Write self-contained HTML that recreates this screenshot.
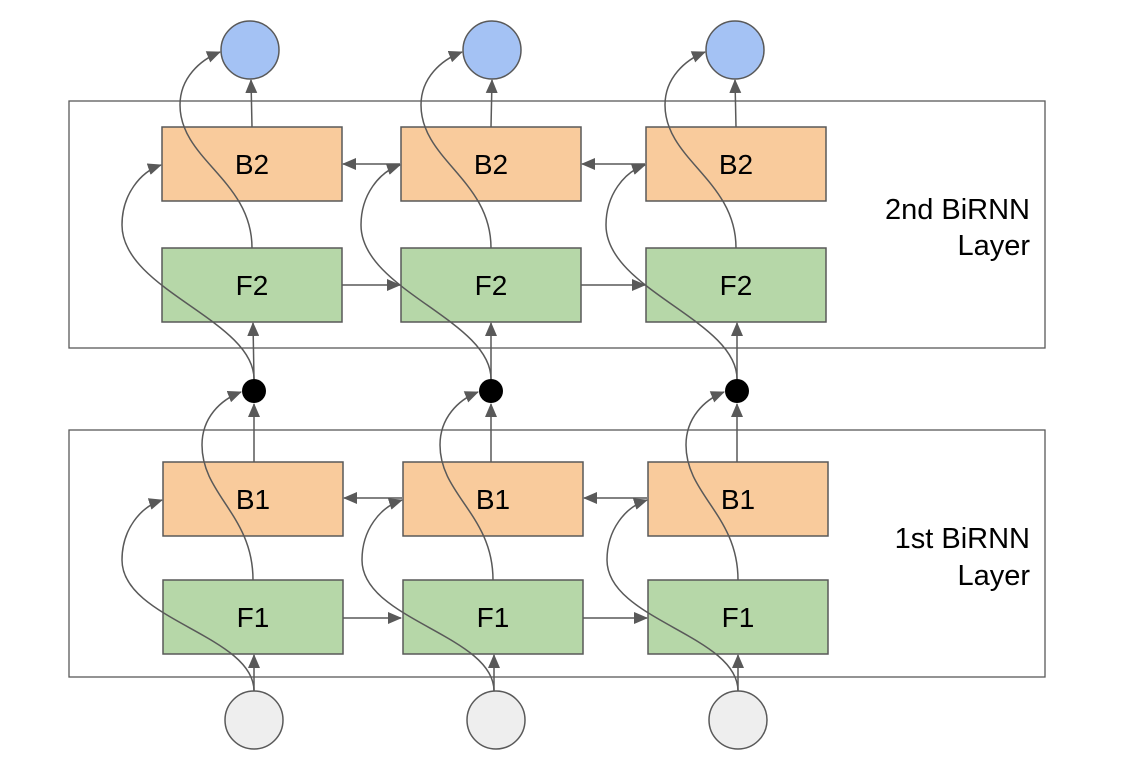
<!DOCTYPE html>
<html><head><style>body{margin:0;background:#fff}svg{display:block}</style></head><body>
<svg width="1126" height="769" viewBox="0 0 1126 769" xmlns="http://www.w3.org/2000/svg" font-family="Liberation Sans, Arial, sans-serif">
<defs><marker id="a" markerWidth="14" markerHeight="12" refX="13" refY="6" orient="auto" markerUnits="userSpaceOnUse"><path d="M0,0 L14,6 L0,12 z" fill="#595959"/></marker></defs>
<g fill="none" stroke="#595959" stroke-width="1.3">
<rect x="69" y="101" width="976" height="247"/>
<rect x="69" y="430" width="976" height="247"/>
</g>
<g font-size="29" text-anchor="end" fill="#000">
<text x="1030" y="219">2nd BiRNN</text><text x="1030" y="255">Layer</text>
<text x="1030" y="548">1st BiRNN</text><text x="1030" y="585">Layer</text>
</g>
<g stroke="#595959" stroke-width="1.5" fill="none" marker-end="url(#a)">
<line x1="342" y1="285" x2="400" y2="285"/><line x1="581" y1="285" x2="645" y2="285"/>
<line x1="400" y1="164" x2="343" y2="164"/><line x1="645" y1="164" x2="582" y2="164"/>
<line x1="343" y1="618" x2="401" y2="618"/><line x1="583" y1="618" x2="647" y2="618"/>
<line x1="402" y1="498" x2="344" y2="498"/><line x1="647" y1="498" x2="584" y2="498"/>
</g>
<g font-size="28" text-anchor="middle">
<g stroke="#595959" stroke-width="1.5">
<rect x="162" y="127" width="180" height="74" fill="#f9cb9c"/><rect x="162" y="248" width="180" height="74" fill="#b6d7a8"/>
<rect x="401" y="127" width="180" height="74" fill="#f9cb9c"/><rect x="401" y="248" width="180" height="74" fill="#b6d7a8"/>
<rect x="646" y="127" width="180" height="74" fill="#f9cb9c"/><rect x="646" y="248" width="180" height="74" fill="#b6d7a8"/>
<rect x="163" y="462" width="180" height="74" fill="#f9cb9c"/><rect x="163" y="580" width="180" height="74" fill="#b6d7a8"/>
<rect x="403" y="462" width="180" height="74" fill="#f9cb9c"/><rect x="403" y="580" width="180" height="74" fill="#b6d7a8"/>
<rect x="648" y="462" width="180" height="74" fill="#f9cb9c"/><rect x="648" y="580" width="180" height="74" fill="#b6d7a8"/>
<circle cx="250" cy="50" r="29" fill="#a4c2f4"/><circle cx="492" cy="50" r="29" fill="#a4c2f4"/><circle cx="735" cy="50" r="29" fill="#a4c2f4"/>
<circle cx="254" cy="720" r="29" fill="#eeeeee"/><circle cx="496" cy="720" r="29" fill="#eeeeee"/><circle cx="738" cy="720" r="29" fill="#eeeeee"/>
</g>
<circle cx="254" cy="391" r="12"/><circle cx="491" cy="391" r="12"/><circle cx="737" cy="391" r="12"/>
<text x="252" y="174">B2</text><text x="491" y="174">B2</text><text x="736" y="174">B2</text>
<text x="252" y="295">F2</text><text x="491" y="295">F2</text><text x="736" y="295">F2</text>
<text x="253" y="509">B1</text><text x="493" y="509">B1</text><text x="738" y="509">B1</text>
<text x="253" y="627">F1</text><text x="493" y="627">F1</text><text x="738" y="627">F1</text>
</g>
<g stroke="#595959" stroke-width="1.5" fill="none" marker-end="url(#a)">
<line x1="252" y1="127" x2="251" y2="80"/><line x1="491" y1="127" x2="492" y2="80"/><line x1="736" y1="127" x2="735" y2="80"/>
<line x1="254" y1="379" x2="253" y2="323"/><line x1="491" y1="379" x2="491" y2="323"/><line x1="737" y1="379" x2="737" y2="323"/>
<line x1="254" y1="462" x2="254" y2="404"/><line x1="491" y1="462" x2="491" y2="404"/><line x1="737" y1="462" x2="737" y2="404"/>
<line x1="254" y1="691" x2="254" y2="655"/><line x1="494" y1="691" x2="494" y2="655"/><line x1="738" y1="691" x2="738" y2="655"/>
<path d="M252,248 C252,180 180,160 180,105 C180,78 200,60 220,52"/>
<path d="M491,248 C491,180 421,160 421,105 C421,78 441,60 462,52"/>
<path d="M736,248 C736,180 665,160 665,105 C665,78 685,60 705,52"/>
<path d="M254,379 C254,320 122,290 122,225 C122,195 140,172 161,165"/>
<path d="M491,379 C491,320 361,290 361,225 C361,195 379,172 400,165"/>
<path d="M737,379 C737,320 606,290 606,225 C606,195 624,172 645,165"/>
<path d="M253,580 C253,515 202,495 202,445 C202,418 220,400 241,392"/>
<path d="M493,580 C493,515 440,495 440,445 C440,418 458,400 478,392"/>
<path d="M738,580 C738,515 686,495 686,445 C686,418 704,400 724,392"/>
<path d="M254,691 C254,635 122,620 122,560 C122,530 140,507 162,500"/>
<path d="M494,691 C494,635 362,620 362,560 C362,530 380,507 402,500"/>
<path d="M738,691 C738,635 607,620 607,560 C607,530 625,507 647,500"/>
</g>
</svg>
</body></html>
